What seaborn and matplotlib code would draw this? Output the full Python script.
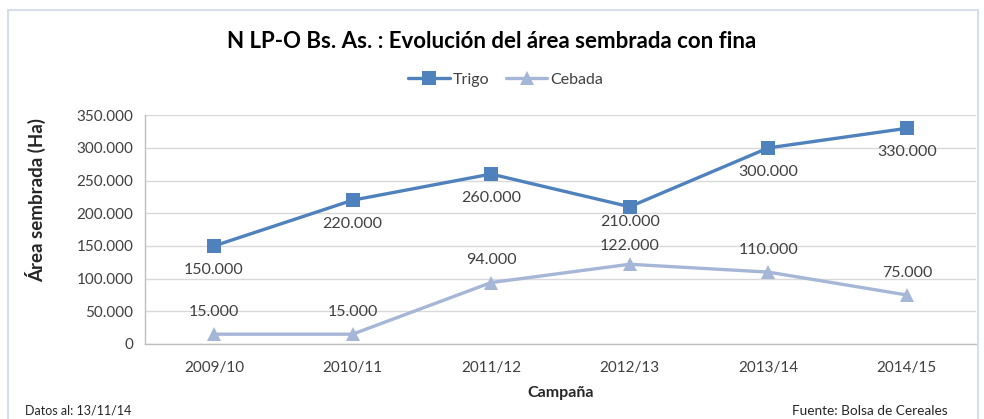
import numpy as np
import pandas as pd
import matplotlib.pyplot as plt
import matplotlib.patches as patches
import seaborn as sns

campanas = ["2009/10", "2010/11", "2011/12", "2012/13", "2013/14", "2014/15"]
trigo = [150000, 220000, 260000, 210000, 300000, 330000]
cebada = [15000, 15000, 94000, 122000, 110000, 75000]

df = pd.DataFrame({
    "Campaña": campanas * 2,
    "Area": trigo + cebada,
    "Cultivo": ["Trigo"] * len(campanas) + ["Cebada"] * len(campanas),
})

colores = {"Trigo": "#4f81bd", "Cebada": "#a6b6d6"}
marcadores = {"Trigo": "s", "Cebada": "^"}

# desplazamiento de etiquetas (pt), ajustado para que no se pisen en 2012/13
off_trigo = [-17, -17, -17, -11, -17, -17]
off_cebada = [16, 16, 16, 13, 16, 16]

sns.set_theme(style="white")
plt.rcParams["font.family"] = ["Lato", "DejaVu Sans"]

fig = plt.figure(figsize=(9.84, 4.19), dpi=100)
ax = fig.add_axes([0.147, 0.179, 0.845, 0.546])

# marco del grafico
fig.patches.append(patches.Rectangle((8 / 984, -0.01), 970 / 984, 1 - 10 / 419 + 0.01,
                                     transform=fig.transFigure, fill=False,
                                     edgecolor="#d5dee9", linewidth=1.5))

sns.lineplot(data=df, x="Campaña", y="Area", hue="Cultivo", style="Cultivo",
             palette=colores, markers=marcadores, dashes=False, linewidth=2.4,
             markersize=10, markeredgewidth=0, ax=ax, legend=True)

x_pos = np.arange(len(campanas))
for i, v in enumerate(trigo):
    ax.annotate(f"{v:,}".replace(",", "."), (x_pos[i], v), xytext=(0, off_trigo[i]),
                textcoords="offset points", ha="center", va="center",
                fontsize=11.5, color="#404040")
for i, v in enumerate(cebada):
    ax.annotate(f"{v:,}".replace(",", "."), (x_pos[i], v), xytext=(0, off_cebada[i]),
                textcoords="offset points", ha="center", va="center",
                fontsize=11.5, color="#404040")

ax.set_xlim(-0.5, len(campanas) - 0.5)
ax.set_ylim(0, 350000)
yticks = np.arange(0, 350001, 50000)
ax.set_yticks(yticks)
ax.set_yticklabels([f"{int(t):,}".replace(",", ".") for t in yticks])
ax.tick_params(axis="both", length=0, labelsize=11, labelcolor="#404040", pad=8)
ax.tick_params(axis="x", pad=12)
ax.yaxis.grid(True, color="#d9d9d9", linewidth=1)
ax.set_axisbelow(True)
for s in ["top", "right"]:
    ax.spines[s].set_visible(False)
for s in ["left", "bottom"]:
    ax.spines[s].set_color("#bfbfbf")
    ax.spines[s].set_linewidth(1)

ax.set_xlabel("Campaña", fontsize=11.5, fontweight="bold", color="#262626", labelpad=8)
ax.set_ylabel("Área sembrada (Ha)", fontsize=13.5, fontweight="bold", color="#262626")
ax.yaxis.set_label_coords(-0.119, 0.63)

leg = ax.legend(loc="center", bbox_to_anchor=(0.4345, 1.154),
                ncol=2, frameon=False, fontsize=11.5, handlelength=2.6, columnspacing=1.0,
                handletextpad=0.2)
for t in leg.get_texts():
    t.set_color("#404040")

fig.text(0.5, 0.9, "N LP-O Bs. As. : Evolución del área sembrada con fina",
         ha="center", va="center", fontsize=16, fontweight="bold", color="#000000")
fig.text(25 / 984, 1 - 410 / 419, "Datos al: 13/11/14", ha="left", va="center",
         fontsize=9, color="#262626")
fig.text(948 / 984, 1 - 411 / 419, "Fuente: Bolsa de Cereales", ha="right", va="center",
         fontsize=9.8, color="#262626")

plt.savefig("out.png", dpi=100)
